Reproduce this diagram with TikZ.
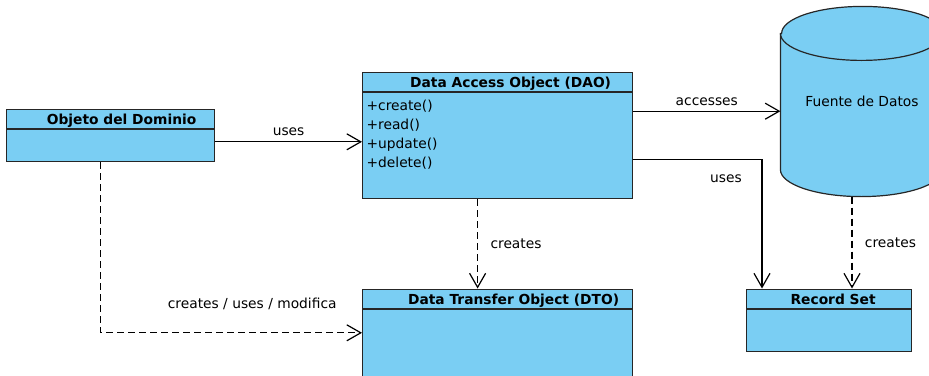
\documentclass[tikz,border=0pt]{standalone}
\usepackage{fontspec}
\setmainfont{DejaVu Sans}
\usepackage{tikz}
\usetikzlibrary{arrows.meta}
\usetikzlibrary{positioning}
\usetikzlibrary{backgrounds}

\definecolor{umlblue}{RGB}{122,206,243}

\begin{document}
\begin{tikzpicture}[x=1pt,y=-1pt,
  font=\fontsize{13.8}{16.5}\selectfont,
  line width=1.2pt,
  head/.style={draw=black!85,fill=umlblue,anchor=north west,minimum height=19.5pt,inner sep=0pt,
    text height=11.4pt,text depth=0pt,font=\fontsize{13.8}{16.5}\selectfont\bfseries},
  body/.style={draw=black!85,fill=umlblue,inner sep=0pt},
  drum/.style={draw=black!85,line width=1.2pt},
  assoc/.style={-{Straight Barb[length=14pt,width=16pt]}},
  depend/.style={assoc,dash pattern=on 7pt off 4pt}]
\useasboundingbox (0,0) rectangle (929,375);

\node[head,minimum width=208pt] (domH) at (6,108.5) {\hspace*{22pt}Objeto del Dominio};
\node[body,minimum width=208pt,minimum height=32pt,below=0pt of domH] (dom) {};

\node[head,minimum width=270pt] (daoH) at (362,71.5) {\hspace*{26pt}Data Access Object (DAO)};
\node[body,minimum width=270pt,minimum height=106pt,below=0pt of daoH] (dao) {};
\node[anchor=north west,inner sep=0pt,align=left,font=\fontsize{13.8}{19}\selectfont] (daoOps)
  at ([shift={(4pt,-7pt)}]dao.north west) {+create()\\+read()\\+update()\\+delete()};

\node[head,minimum width=270pt] (dtoH) at (362,288.5) {\hspace*{32pt}Data Transfer Object (DTO)};
\node[body,minimum width=270pt,minimum height=72pt,below=0pt of dtoH] (dto) {};

\node[head,minimum width=165pt] (rsH) at (746,288.5) {\hspace*{8pt}Record Set};
\node[body,minimum width=165pt,minimum height=42pt,below=0pt of rsH] (rs) {};

\node[minimum width=162pt,minimum height=189pt,inner sep=0pt] (src) at (862,101.5) {Fuente de Datos};
\begin{scope}[on background layer]
  \filldraw[drum,fill=umlblue] ([yshift=-27pt]src.north west)
    -- ([yshift=27pt]src.south west) arc[start angle=180,end angle=360,x radius=81pt,y radius=27pt]
    -- ([yshift=-27pt]src.north east) arc[start angle=0,end angle=180,x radius=81pt,y radius=27pt] -- cycle;
  \draw[drum] ([yshift=-27pt]src.north west) arc[start angle=180,end angle=360,x radius=81pt,y radius=27pt];
\end{scope}

\draw[assoc] ([yshift=4pt]dom.east) -- ([yshift=4pt]dom.east -| dao.west)
  node[midway,above=2pt] (usesA) {uses};
\draw[assoc] ([yshift=-19pt]dao.north east) -- ([yshift=-19pt]dao.north east -| src.west)
  node[midway,above=1.5pt] (accLbl) {accesses};
\draw[assoc] ([yshift=-67pt]dao.north east) -| ([xshift=16pt]rsH.north west)
  node[pos=0.36,below=12pt] (usesB) {uses};
\draw[depend] ([xshift=-20pt]dao.south) -- ([xshift=-20pt]dao.south |- dtoH.north)
  node[midway,right=9pt] (crA) {creates};
\draw[depend] ([xshift=-10pt]src.south) -- ([xshift=-10pt]src.south |- rsH.north)
  node[midway,right=9pt] (crB) {creates};
\draw[depend] ([xshift=-10pt]dom.south) |- ([yshift=13pt]dto.west)
  node[pos=0.79,above=19pt] (crC) {creates / uses / modifica};
\end{tikzpicture}
\end{document}
